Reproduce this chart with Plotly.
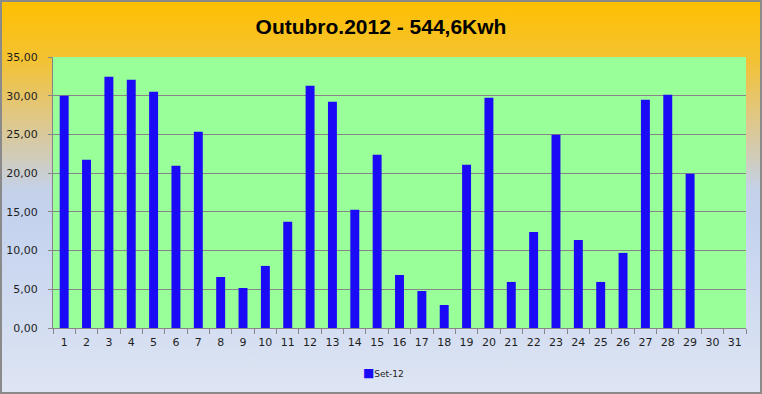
import base64
import plotly.graph_objects as go

days = [str(d) for d in range(1, 32)]
kwh = [30.00, 21.72, 32.46, 32.07, 30.52, 20.95, 25.34, 6.59, 5.17, 8.02,
       13.71, 31.29, 29.22, 15.26, 22.37, 6.85, 4.78, 2.97, 21.08, 29.74,
       5.95, 12.41, 24.96, 11.38, 5.95, 9.70, 29.48, 30.13, 19.91, None, None]
series_name = "Set-12"
title_text = "Outubro.2012 - 544,6Kwh"
bar_color = "#1A0AF5"

W, H = 762, 394
ML, MR, MT, MB = 53, 16, 57, 66
PW, PH = W - ML - MR, H - MT - MB

svg = f'''<svg xmlns="http://www.w3.org/2000/svg" width="{W}" height="{H}" viewBox="0 0 {W} {H}" preserveAspectRatio="none">
<defs><linearGradient id="g" x1="0" y1="0" x2="0" y2="1">
<stop offset="0" stop-color="#FFC000"/>
<stop offset="0.15" stop-color="#F3C232"/>
<stop offset="0.28" stop-color="#E2C67C"/>
<stop offset="0.40" stop-color="#D0CCBA"/>
<stop offset="0.48" stop-color="#C5D1E8"/>
<stop offset="0.55" stop-color="#C4D2EE"/>
<stop offset="1" stop-color="#DEE5F3"/>
</linearGradient></defs>
<rect x="0" y="0" width="{W}" height="{H}" fill="url(#g)"/>
<rect x="1" y="1" width="{W-2}" height="{H-2}" fill="none" stroke="#8A8A8A" stroke-width="2"/>
</svg>'''
src = "data:image/svg+xml;base64," + base64.b64encode(svg.encode()).decode()

fig = go.Figure()
fig.add_trace(go.Bar(x=days, y=kwh, name=series_name, marker_color=bar_color,
                     marker_line_width=0, showlegend=False))

fig.add_layout_image(dict(source=src, xref="paper", yref="paper",
                          x=-ML / PW, y=1 + MT / PH, sizex=W / PW, sizey=H / PH,
                          xanchor="left", yanchor="top", sizing="stretch", layer="below"))
fig.add_shape(type="rect", xref="paper", yref="paper", x0=0, x1=1, y0=0, y1=1,
              fillcolor="#99FF99", line_width=0, layer="below")

# legend drawn as text: coloured square + series name
fig.add_annotation(text=f'<span style="color:{bar_color};font-size:12px">■</span>{series_name}',
                   xref="paper", yref="paper", x=(383 - ML) / PW, y=-(373 - MT - PH) / PH,
                   xanchor="center", yanchor="middle", showarrow=False,
                   font=dict(family="DejaVu Sans", size=9, color="#1E1E1E"))

fig.update_layout(
    width=W, height=H,
    margin=dict(l=ML, r=MR, t=MT, b=MB, pad=0, autoexpand=False),
    paper_bgcolor="rgba(0,0,0,0)", plot_bgcolor="rgba(0,0,0,0)",
    separators=",.",
    bargap=0.6,
    font=dict(family="DejaVu Sans", size=11, color="#1E1E1E"),
    title=dict(text=f"<b>{title_text}</b>", x=0.5, xref="container", xanchor="center",
               y=1 - 27 / H, yref="container", yanchor="middle",
               font=dict(family="Liberation Sans", size=21, color="#000000")),
    showlegend=False,
    xaxis=dict(type="category", range=[-0.5, 30.5], showgrid=False, automargin=False,
               showline=True, linecolor="#868686", linewidth=1, tickangle=0,
               ticks="outside", tickson="boundaries", ticklen=5, tickcolor="#868686",
               ticklabelstandoff=4, tickfont=dict(size=11)),
    yaxis=dict(range=[0, 35], dtick=5, tickformat=".2f", showgrid=True, automargin=False,
               gridcolor="#868686", gridwidth=1, zeroline=False,
               showline=True, linecolor="#868686", linewidth=1,
               ticks="outside", ticklen=4, tickcolor="#868686",
               ticklabelstandoff=8),
)

fig.write_html("out.html")
